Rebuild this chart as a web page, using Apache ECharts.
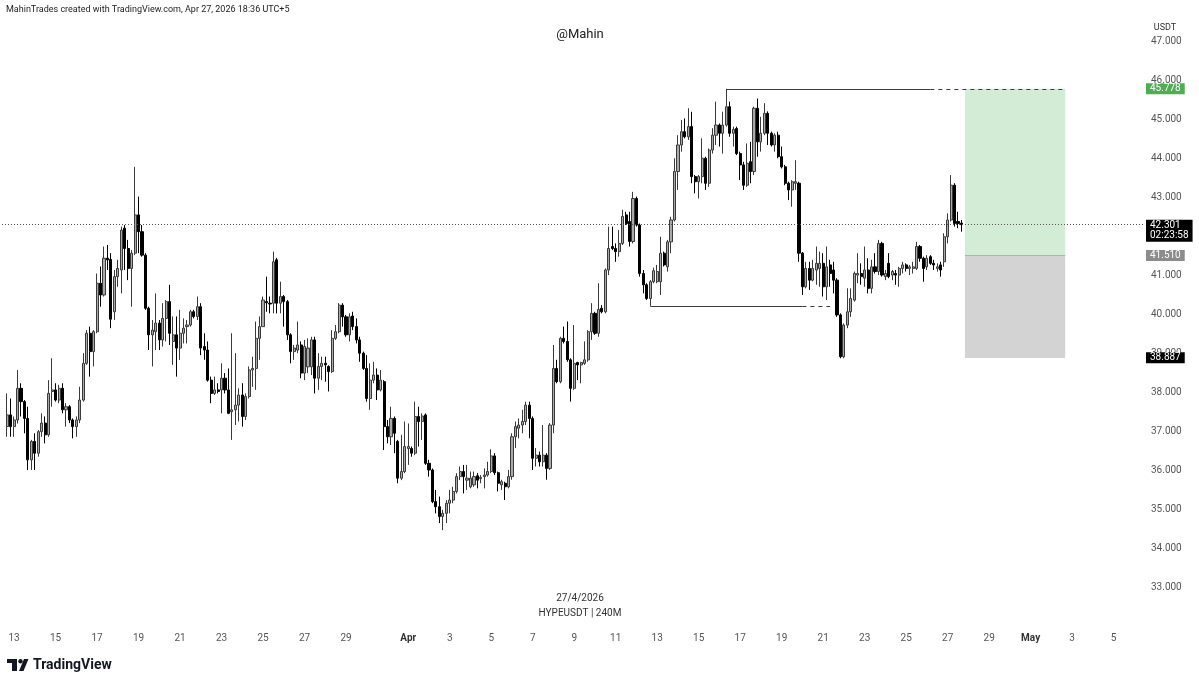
<!DOCTYPE html>
<html><head><meta charset="utf-8">
<script src="https://cdn.jsdelivr.net/npm/echarts@6/dist/echarts.min.js"></script>
<style>html,body{margin:0;padding:0;background:#fff}#c{width:1199px;height:685px}</style>
</head><body><div id="c"></div>
<script>
// 4h candles HYPEUSDT, [open, close, low, high], first candle = 12 Mar 17:00 (UTC+5)
const ohlc = [
[37.13,37.43,36.87,37.98],[37.43,37.13,36.87,37.85],[37.13,37.30,36.87,37.39],[37.30,38.11,37.21,38.58],[38.11,37.77,37.39,38.24],
[37.77,37.34,36.96,37.81],[37.34,36.28,36.02,37.64],[36.28,36.75,36.02,36.79],[36.75,36.45,36.02,36.96],[36.45,37.00,36.36,37.04],
[37.00,37.22,36.87,37.47],[37.22,36.92,36.70,37.39],[36.92,37.98,36.87,38.32],[38.03,38.07,37.64,38.88],[38.07,37.81,37.77,38.24],
[37.81,38.11,37.73,38.20],[38.11,37.56,37.47,38.24],[37.56,37.64,37.13,37.73],[37.64,37.30,37.22,37.68],[37.30,37.13,36.83,37.34],
[37.13,37.30,36.87,37.39],[37.30,37.81,37.22,38.15],[37.81,38.75,37.77,39.01],[38.75,39.52,38.71,39.60],[39.52,39.05,38.41,39.69],
[39.05,39.56,38.67,39.60],[39.56,40.80,39.52,41.05],[40.80,40.50,40.20,41.23],[40.50,41.44,40.46,41.74],[41.44,41.40,41.14,41.78],
[41.41,39.88,39.65,41.57],[40.07,40.97,39.86,41.14],[40.97,41.18,40.71,41.40],[41.14,42.16,40.54,42.25],[42.21,41.69,41.14,42.29],
[41.69,41.18,40.88,41.91],[41.18,41.57,40.20,41.65],[41.57,42.55,41.52,43.78],[42.55,42.12,41.57,43.02],[42.12,41.52,41.48,42.29],
[41.52,40.16,40.12,41.57],[40.16,39.48,39.09,40.20],[39.48,39.60,38.67,39.86],[39.56,39.78,39.09,40.54],[39.78,39.35,39.09,39.86],
[39.35,39.90,39.18,40.29],[39.90,40.33,39.31,40.37],[40.33,39.52,39.22,40.76],[39.31,39.48,38.71,39.95],[39.48,39.14,38.41,39.95],
[39.14,39.52,38.84,40.12],[39.52,39.65,39.26,39.90],[39.69,39.73,39.26,39.86],[39.73,40.07,39.69,40.12],[40.07,39.95,39.90,40.12],
[39.95,40.20,39.86,40.46],[40.20,39.14,38.96,40.29],[39.18,39.09,38.84,39.52],[39.09,38.32,38.28,39.31],[38.32,37.98,37.73,38.41],
[37.98,38.07,37.94,38.41],[38.07,38.03,37.98,38.24],[38.07,38.37,37.47,38.75],[38.37,38.07,37.98,38.50],[38.07,37.47,37.45,38.62],
[37.51,37.56,36.79,39.52],[37.56,37.68,37.17,39.01],[37.68,37.94,37.26,38.11],[37.94,37.39,37.13,38.24],[37.39,37.90,37.30,37.98],
[37.90,38.58,37.85,38.67],[38.58,38.62,38.15,38.92],[38.62,39.39,38.07,39.82],[39.39,39.69,38.84,39.95],[39.69,40.37,39.69,40.46],
[40.33,40.30,40.07,40.97],[40.29,40.27,40.03,40.46],[40.29,41.35,40.03,41.61],[41.40,40.29,40.03,41.45],[40.29,40.46,40.03,40.84],
[40.46,40.33,39.69,40.50],[40.33,39.48,39.35,40.37],[39.48,39.05,38.75,39.52],[39.05,39.14,38.84,39.22],[39.09,39.22,39.01,39.82],
[39.22,38.50,38.37,39.31],[38.50,39.18,38.32,39.35],[38.66,39.14,38.50,39.39],[38.66,39.35,38.45,39.43],[39.35,38.37,37.98,39.43],
[38.37,38.67,38.07,39.01],[38.67,38.75,38.32,38.92],[38.75,38.71,38.28,38.92],[38.67,38.54,38.03,38.70],[38.54,39.39,38.50,39.60],
[39.39,39.56,39.35,39.73],[39.56,40.24,39.52,40.29],[40.24,39.94,39.69,40.29],[39.94,39.48,39.43,39.99],[39.48,39.94,39.31,40.03],
[39.96,39.69,39.60,40.07],[39.69,39.35,39.26,39.90],[39.35,39.01,38.79,39.43],[39.01,38.62,38.58,39.05],[38.62,37.85,37.77,38.96],
[37.85,38.32,37.56,38.75],[38.32,38.45,38.24,38.79],[38.45,38.07,37.81,38.62],[38.07,38.32,38.03,38.58],[38.28,37.13,36.53,38.32],
[37.13,36.87,36.70,37.30],[36.87,37.34,36.66,37.64],[37.34,36.96,36.45,37.39],[36.75,35.81,35.68,36.79],[35.81,35.98,35.76,36.92],
[35.98,36.62,35.94,37.26],[36.57,36.62,36.15,37.21],[36.57,36.45,36.36,36.62],[36.45,37.39,36.40,37.77],[37.39,37.26,36.62,37.64],
[37.26,37.40,36.79,37.47],[37.43,36.19,36.15,37.47],[36.19,36.02,35.85,36.28],[36.02,35.21,35.17,36.06],[35.21,35.08,34.91,35.51],
[35.08,34.83,34.66,35.34],[34.83,34.91,34.48,35.00],[34.91,35.17,34.66,35.25],[35.17,35.25,34.91,35.51],[35.25,35.47,35.17,35.59],
[35.47,35.85,35.42,35.94],[35.85,35.98,35.76,36.11],[35.98,35.85,35.42,36.15],[35.76,35.81,35.51,36.15],[35.59,35.81,35.55,35.98],
[35.64,35.85,35.59,35.98],[35.87,35.76,35.55,35.94],[35.80,35.83,35.68,35.89],[35.85,35.89,35.55,36.06],[35.89,35.98,35.85,36.23],
[35.98,36.38,35.94,36.55],[36.38,35.95,35.89,36.45],[35.95,35.68,35.47,35.98],[35.64,35.72,35.51,35.77],[35.68,35.59,35.25,35.72],
[35.59,35.85,35.55,36.02],[35.85,36.87,35.77,36.96],[36.87,37.13,36.58,37.26],[37.09,37.17,36.83,37.34],[37.17,37.26,36.96,37.56],
[37.26,37.68,37.17,37.77],[37.68,37.34,36.83,37.77],[37.34,36.32,36.02,37.39],[36.32,36.40,36.11,36.58],[36.40,36.23,36.11,36.49],
[36.23,36.40,36.11,37.17],[36.40,36.06,35.77,36.45],[36.06,37.17,36.02,37.22],[37.17,38.62,36.96,39.22],[38.62,38.28,38.24,38.84],
[38.28,39.39,38.24,39.43],[39.39,39.31,39.26,39.69],[39.31,38.84,38.79,39.82],[38.84,38.11,37.77,38.88],[38.11,38.75,38.07,39.73],
[38.77,38.71,38.32,38.79],[38.71,38.77,38.24,38.79],[38.75,38.84,38.71,39.31],[38.84,39.56,38.79,39.60],[39.56,40.03,39.35,40.29],
[40.03,39.52,39.48,40.07],[39.52,40.13,39.43,40.80],[40.16,40.07,40.03,40.24],[40.07,41.14,40.03,41.18],[41.14,41.69,41.01,42.25],
[41.74,41.69,41.65,42.25],[41.69,41.61,41.35,41.82],[41.61,41.82,41.48,42.16],[41.82,42.51,41.78,42.68],[42.55,42.33,42.29,42.63],
[42.38,41.87,41.74,42.63],[41.87,42.97,41.82,43.14],[42.97,42.29,42.25,43.02],[42.29,41.05,40.97,42.33],[41.05,40.76,40.54,41.14],
[40.76,40.41,40.37,40.80],[40.41,40.84,40.37,40.88],[40.84,41.12,40.80,41.20],[40.84,41.10,40.80,41.27],[40.84,41.57,40.50,41.99],
[41.57,41.27,41.23,41.61],[41.22,41.86,41.10,41.91],[41.86,42.42,41.57,42.50],[42.42,43.66,42.38,44.00],[43.66,44.34,43.19,44.59],
[44.34,44.68,44.17,44.98],[44.68,44.55,44.51,45.02],[44.55,44.81,44.47,45.28],[44.81,43.53,43.36,45.19],[43.53,43.40,43.10,43.57],
[43.40,43.53,42.97,43.57],[43.53,44.00,43.36,44.51],[44.00,43.36,43.19,44.04],[43.36,44.21,43.27,44.25],[44.21,44.59,44.12,44.77],
[44.59,44.85,44.34,45.45],[44.85,44.64,44.30,44.89],[44.64,44.85,44.12,45.19],[44.85,45.32,44.81,45.36],[45.32,44.64,44.55,45.45],
[44.64,44.74,44.30,44.81],[44.76,44.12,44.08,44.81],[44.12,43.83,43.44,44.17],[43.83,43.31,43.19,43.91],[43.31,43.87,43.27,44.38],
[43.91,43.66,43.36,44.42],[43.66,45.28,43.57,45.32],[45.28,44.42,44.04,45.53],[44.42,44.64,44.17,45.06],[44.64,45.15,44.59,45.41],
[45.15,44.64,44.34,45.20],[44.64,44.34,44.30,44.68],[44.34,44.59,44.17,44.64],[44.59,44.04,44.00,44.68],[44.04,43.78,43.74,44.30],
[43.78,43.36,43.31,43.83],[43.36,43.19,42.93,43.40],[43.19,43.40,42.76,43.44],[43.36,43.40,43.19,43.95],[43.36,41.57,41.35,43.40],
[41.57,40.71,40.50,41.60],[40.71,41.18,40.67,41.35],[41.18,40.88,40.63,41.35],[40.88,41.18,40.85,41.40],[41.14,41.31,40.76,41.74],
[41.18,41.31,40.71,41.61],[41.31,40.71,40.46,41.57],[40.71,41.22,40.37,41.74],[41.27,41.05,40.71,41.40],[41.14,40.88,40.54,41.35],
[40.88,39.99,39.94,40.93],[39.99,38.92,38.88,40.03],[38.92,39.73,38.88,39.77],[39.73,40.07,39.65,40.67],[40.07,40.41,39.94,40.67],
[40.37,41.05,40.33,41.10],[41.01,41.05,40.80,41.57],[41.05,40.97,40.76,41.31],[40.93,41.14,40.71,41.74],[41.14,40.67,40.54,41.44],
[40.67,41.22,40.54,41.40],[41.22,41.10,41.05,41.57],[41.10,41.82,41.01,41.91],[41.82,41.01,40.97,41.86],[40.97,41.05,40.88,41.14],
[41.31,40.97,40.93,41.57],[41.01,41.10,40.88,41.14],[41.05,41.01,40.76,41.14],[41.01,41.18,40.71,41.22],[41.18,41.27,41.05,41.35],
[41.27,41.18,41.10,41.31],[41.18,41.22,41.01,41.27],[41.18,41.22,41.05,41.35],[41.18,41.74,41.14,41.86],[41.74,41.44,41.35,41.78],
[41.44,41.18,40.84,41.48],[41.22,41.44,41.14,41.52],[41.48,41.31,41.27,41.52],[41.31,41.27,41.14,41.40],[41.18,41.22,41.10,41.31],
[41.27,41.14,40.97,41.35],[41.35,41.99,41.22,42.08],[41.99,42.42,41.82,42.59],[42.42,43.31,42.38,43.57],[43.31,42.33,42.25,43.36],
[42.38,42.33,42.21,42.63],[42.34,42.30,42.12,42.42]
];

// time slots (4h, UTC+5): slot 0 = 12 Mar 13:00
const slotStart = { month: 3, day: 12, hour: 13 };
const slotCount = 330;
const firstCandleSlot = 1;
const monthLength = { 3: 31, 4: 30, 5: 31 };

// x tick labels (shown at the 01:00 candle of the day)
const tickDays  = ['3-13','3-15','3-17','3-19','3-21','3-23','3-25','3-27','3-29','4-1','4-3','4-5','4-7','4-9','4-11','4-13','4-15','4-17','4-19','4-21','4-23','4-25','4-27','4-29','5-1','5-3','5-5'];
const tickTexts = ['13','15','17','19','21','23','25','27','29','Apr','3','5','7','9','11','13','15','17','19','21','23','25','27','29','May','3','5'];

// y ticks
const yMin = 32, yMax = 48, yStep = 1;

// position levels
const lastPrice = 42.301;
const countdown = '02:23:58';
const takeProfit = 45.778;
const entryPrice = 41.510;
const stopLoss = 38.887;
const swingLowLevel = 40.22;
// anchor slots of the drawings
const highAnchorSlot = 209, highSolidEndSlot = 268;
const lowAnchorSlot = 187, lowSolidEndSlot = 231, lowDashEndSlot = 239;
const boxStartSlot = 278, boxEndSlot = 307;

// build categories
const cats = [];
{
  let m = slotStart.month, d = slotStart.day, h = slotStart.hour;
  for (let i = 0; i < slotCount; i++) {
    cats.push(m + '-' + d + ' ' + (h < 10 ? '0' + h : h) + ':00');
    h += 4;
    if (h >= 24) { h -= 24; d++; if (d > monthLength[m]) { d = 1; m++; } }
  }
}
const tickMap = {};
tickDays.forEach((t, i) => { tickMap[t + ' 01:00'] = tickTexts[i]; });

const seriesData = cats.map((c, i) => {
  const k = i - firstCandleSlot;
  return (k >= 0 && k < ohlc.length) ? ohlc[k] : '-';
});

const highAnchorPrice = ohlc[highAnchorSlot - firstCandleSlot][3];
const lowAnchorPrice = 40.40;

const font = 'Roboto, "Liberation Sans", sans-serif';
const chart = echarts.init(document.getElementById('c'), null, { renderer: 'canvas' });
const lineDark = { color: '#3b3b3b', width: 1, type: 'solid' };
const lineDash = { color: '#3b3b3b', width: 1, type: [4, 4] };
const hidden = { color: 'rgba(0,0,0,0)', width: 1, type: 'solid' };
const tagLabel = (text, bg) => ({
  show: true, position: 'end', distance: 3, formatter: text, backgroundColor: bg,
  color: '#fff', fontSize: 10, padding: [1, 4, 0, 4], fontFamily: font
});

chart.setOption({
  animation: false,
  backgroundColor: '#ffffff',
  textStyle: { fontFamily: font },
  grid: { left: 2, right: 56, top: 2, bottom: 58 },
  xAxis: {
    type: 'category', data: cats, boundaryGap: true,
    axisLine: { show: false }, axisTick: { show: false }, splitLine: { show: false },
    axisLabel: {
      interval: (idx, val) => tickMap[val] !== undefined,
      formatter: (val) => {
        const t = tickMap[val] || '';
        return (t === 'Apr' || t === 'May') ? '{b|' + t + '}' : t;
      },
      rich: { b: { fontWeight: 'bold', color: '#333', fontSize: 10, fontFamily: font } },
      color: '#555', fontSize: 10, margin: 6, fontFamily: font
    }
  },
  yAxis: {
    type: 'value', position: 'right', min: yMin, max: yMax, interval: yStep, scale: true,
    axisLine: { show: false }, axisTick: { show: false }, splitLine: { show: false },
    axisLabel: {
      formatter: (v) => (v >= 33 && v <= 47 && v !== 42) ? v.toFixed(3) : '',
      color: '#555', fontSize: 10, margin: 8, fontFamily: font
    }
  },
  series: [{
    type: 'candlestick',
    data: seriesData,
    barWidth: 2.6,
    z: 3,
    itemStyle: {
      color: '#a9a9a9', color0: '#000000',
      borderColor: '#3a3a3a', borderColor0: '#000000', borderWidth: 1
    },
    markArea: {
      silent: true,
      data: [
        [{ coord: [cats[boxStartSlot], takeProfit], itemStyle: { color: '#d3ecd5' } }, { coord: [cats[boxEndSlot], entryPrice] }],
        [{ coord: [cats[boxStartSlot], entryPrice], itemStyle: { color: '#d3d3d3' } }, { coord: [cats[boxEndSlot], stopLoss] }]
      ]
    },
    markLine: {
      silent: true, symbol: ['none', 'none'], animation: false,
      label: { show: false },
      data: [
        [{ coord: [cats[highAnchorSlot], highAnchorPrice], lineStyle: lineDark }, { coord: [cats[highAnchorSlot], takeProfit] }],
        [{ coord: [cats[highAnchorSlot], takeProfit], lineStyle: lineDark }, { coord: [cats[highSolidEndSlot], takeProfit] }],
        [{ coord: [cats[highSolidEndSlot], takeProfit], lineStyle: lineDash }, { coord: [cats[boxEndSlot], takeProfit] }],
        [{ coord: [cats[lowAnchorSlot], lowAnchorPrice], lineStyle: lineDark }, { coord: [cats[lowAnchorSlot], swingLowLevel] }],
        [{ coord: [cats[lowAnchorSlot], swingLowLevel], lineStyle: lineDark }, { coord: [cats[lowSolidEndSlot], swingLowLevel] }],
        [{ coord: [cats[lowSolidEndSlot], swingLowLevel], lineStyle: lineDash }, { coord: [cats[lowDashEndSlot], swingLowLevel] }],
        [{ coord: [cats[boxStartSlot], entryPrice], lineStyle: { color: '#9fbfa5', width: 1, type: 'solid' } }, { coord: [cats[boxEndSlot], entryPrice] }],
        {
          yAxis: lastPrice, lineStyle: { color: '#555', width: 1, type: [1, 2] },
          label: {
            show: true, position: 'end', distance: 3, formatter: lastPrice.toFixed(3) + '\n' + countdown,
            backgroundColor: '#000', color: '#fff', fontSize: 10, lineHeight: 10, padding: [1, 4, 1, 4],
            verticalAlign: 'top', offset: [0, -5], align: 'left', fontFamily: font
          }
        },
        { yAxis: takeProfit, lineStyle: hidden, label: tagLabel(takeProfit.toFixed(3), '#4caf50') },
        { yAxis: entryPrice, lineStyle: hidden, label: tagLabel(entryPrice.toFixed(3), '#8c8c8c') },
        { yAxis: stopLoss, lineStyle: hidden, label: tagLabel(stopLoss.toFixed(3), '#000000') }
      ]
    }
  }],
  graphic: [
    { type: 'text', left: 6, top: 5, style: { text: 'MahinTrades created with TradingView.com, Apr 27, 2026 18:36 UTC+5', fill: '#222', font: '9px ' + font } },
    { type: 'text', x: 580, y: 35, style: { text: '@Mahin', fill: '#222', font: '13px ' + font, align: 'center', verticalAlign: 'middle' } },
    { type: 'text', x: 1165, y: 28, style: { text: 'USDT', fill: '#333', font: '9px ' + font, align: 'center', verticalAlign: 'middle' } },
    { type: 'text', x: 580, y: 598, style: { text: '27/4/2026', fill: '#333', font: '10px ' + font, align: 'center', verticalAlign: 'middle' } },
    { type: 'text', x: 580, y: 613, style: { text: 'HYPEUSDT | 240M', fill: '#333', font: '10px ' + font, align: 'center', verticalAlign: 'middle' } },
    { type: 'rect', shape: { x: 7, y: 659, width: 10, height: 4 }, style: { fill: '#131722' } },
    { type: 'rect', shape: { x: 12, y: 659, width: 5, height: 12 }, style: { fill: '#131722' } },
    { type: 'circle', shape: { cx: 20.5, cy: 661.2, r: 2.2 }, style: { fill: '#131722' } },
    { type: 'polygon', shape: { points: [[19, 671], [24, 659], [28.5, 659], [23.5, 671]] }, style: { fill: '#131722' } },
    { type: 'text', x: 33, y: 665, style: { text: 'TradingView', fill: '#131722', font: 'bold 14px ' + font, verticalAlign: 'middle' } }
  ]
});
</script>
</body></html>
